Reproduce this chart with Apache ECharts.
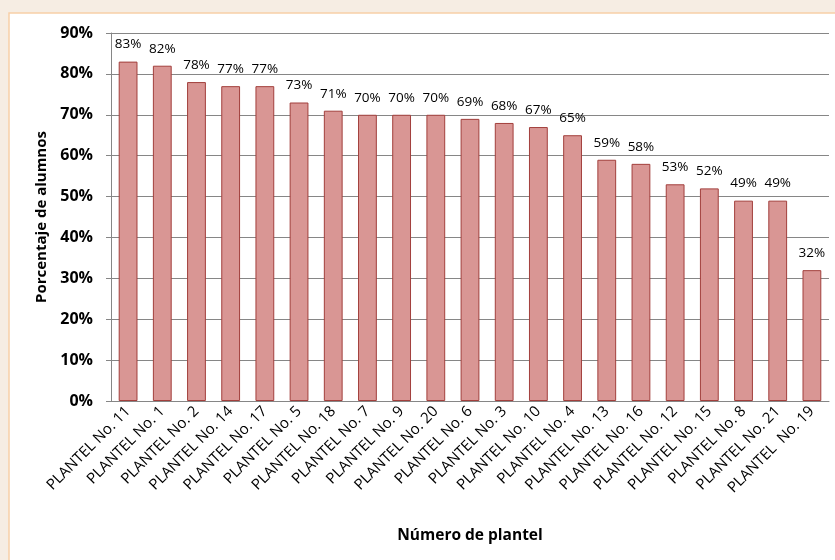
<!DOCTYPE html>
<html lang="es">
<head>
<meta charset="UTF-8">
<title>Porcentaje de alumnos por plantel</title>
<style>
  html, body { margin: 0; padding: 0; background: #f6ede3; }
  #chart { width: 835px; height: 560px; }
</style>
</head>
<body>
<div id="chart"></div>
<script src="https://cdn.jsdelivr.net/npm/echarts@6/dist/echarts.min.js"></script>
<script>
var categories = ['PLANTEL No. 11', 'PLANTEL No. 1', 'PLANTEL No. 2', 'PLANTEL No. 14', 'PLANTEL No. 17',
    'PLANTEL No. 5', 'PLANTEL No. 18', 'PLANTEL No. 7', 'PLANTEL No. 9', 'PLANTEL No. 20', 'PLANTEL No. 6',
    'PLANTEL No. 3', 'PLANTEL No. 10', 'PLANTEL No. 4', 'PLANTEL No. 13', 'PLANTEL No. 16', 'PLANTEL No. 12',
    'PLANTEL No. 15', 'PLANTEL No. 8', 'PLANTEL No. 21', 'PLANTEL  No. 19'];
var percentages = [83, 82, 78, 77, 77, 73, 71, 70, 70, 70, 69, 68, 67, 65, 59, 58, 53, 52, 49, 49, 32];
var yTicks = [0, 10, 20, 30, 40, 50, 60, 70, 80, 90];

var font = '"Open Sans", "Noto Sans", sans-serif';
var chart = echarts.init(document.getElementById('chart'));

var option = {
    animation: false,
    backgroundColor: 'transparent',
    graphic: [{
        type: 'rect',
        z: -10,
        shape: { x: 9, y: 13, width: 840, height: 560 },
        style: { fill: '#ffffff', stroke: '#f8cfa8', lineWidth: 1.5 }
    }],
    grid: { left: 111, right: 6, top: 33, bottom: 159 },
    xAxis: {
        type: 'category',
        data: categories,
        name: 'Número de plantel',
        nameLocation: 'middle',
        nameGap: 127,
        nameTextStyle: { fontFamily: font, fontWeight: 'bold', fontSize: 15.5, color: '#000' },
        axisLine: { lineStyle: { color: '#868686' } },
        axisTick: { lineStyle: { color: '#868686' }, length: 5 },
        axisLabel: { rotate: 45, interval: 0, fontFamily: font, fontSize: 15, color: '#000', margin: 8 }
    },
    yAxis: {
        type: 'value',
        min: yTicks[0],
        max: yTicks[yTicks.length - 1],
        interval: 10,
        name: 'Porcentaje de alumnos',
        nameLocation: 'middle',
        nameGap: 61,
        nameTextStyle: { fontFamily: font, fontWeight: 'bold', fontSize: 15, color: '#000' },
        axisLine: { show: true, lineStyle: { color: '#868686' } },
        axisTick: { show: true, length: 5, lineStyle: { color: '#868686' } },
        splitLine: { lineStyle: { color: '#868686' } },
        axisLabel: {
            formatter: '{value}%',
            fontFamily: font, fontWeight: 'bold', fontSize: 16, color: '#000', margin: 18
        }
    },
    series: [{
        type: 'bar',
        data: percentages,
        barWidth: '55%',
        itemStyle: { color: '#d99694', borderColor: '#a23f3c', borderWidth: 1 },
        label: {
            show: true,
            position: 'top',
            distance: 10,
            formatter: '{c}%',
            fontFamily: font,
            fontSize: 13.5,
            color: '#000'
        }
    }]
};
chart.setOption(option);
</script>
</body>
</html>
